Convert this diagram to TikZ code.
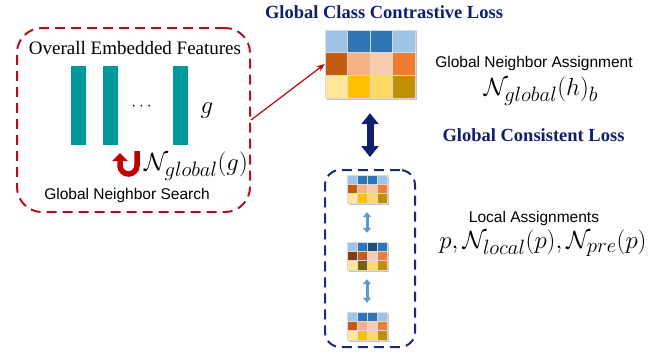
\documentclass[tikz,border=0pt]{standalone}
\usepackage[no-math]{fontspec}
\setmainfont{Liberation Serif}
\setsansfont{Liberation Sans}
\usepackage{amsmath}
\usetikzlibrary{shapes,arrows.meta,shadows}
\DeclareMathSizes{24}{24}{20}{16}

\definecolor{featteal}{RGB}{0,153,153}
\definecolor{lossnavy}{RGB}{16,30,110}
\definecolor{boxred}{RGB}{175,20,30}
\definecolor{arrowred}{RGB}{192,0,0}
\definecolor{boxnavy}{RGB}{30,40,120}
\definecolor{linkblue}{RGB}{91,155,213}
\definecolor{hLB}{HTML}{9DC3E6}
\definecolor{hB}{HTML}{2E75B6}
\definecolor{hDB}{HTML}{1F4E79}
\definecolor{hBr}{HTML}{C55A11}
\definecolor{hPe}{HTML}{F4B183}
\definecolor{hLp}{HTML}{F8CBAD}
\definecolor{hOr}{HTML}{ED7D31}
\definecolor{hDBr}{HTML}{843C0C}
\definecolor{hLy}{HTML}{FFE699}
\definecolor{hGo}{HTML}{FFC000}
\definecolor{hYe}{HTML}{FFD966}
\definecolor{hOl}{HTML}{BF9000}
\definecolor{hDOl}{HTML}{7F6000}

% heat map: name, position, cell width, cell height, rows of colours
\newcommand{\heatmap}[5]{%
  \node[heatbox, minimum width=4*#3, minimum height=3*#4] (#1) at (#2) {};
  \begin{scope}[shift={(#1.north west)}]
    \foreach \row [count=\r] in {#5}
      \foreach \c [count=\k] in \row
        \draw[heatcell, fill=\c] ({(\k-1)*#3},{(1-\r)*#4}) rectangle ++(#3,-#4);
  \end{scope}}

\begin{document}
\begin{tikzpicture}[x=1pt,y=1pt]
\tikzstyle{heatbox}=[rectangle,inner sep=0pt,fill=white,drop shadow={shadow xshift=1.5pt,shadow yshift=-1.5pt,fill=black!45}]
\tikzstyle{heatcell}=[draw=white!85!black,line width=0.4pt]
\tikzstyle{featbar}=[rectangle,inner sep=0pt,fill=featteal,minimum width=15,minimum height=79]
\tikzstyle{title}=[inner sep=0pt,text=lossnavy,font=\bfseries\fontsize{18.5}{20}\selectfont]
\tikzstyle{plain}=[inner sep=0pt,font=\sffamily\fontsize{15.5}{17}\selectfont]
\tikzstyle{formula}=[inner sep=0pt,font=\fontsize{24}{26}\selectfont]
\useasboundingbox (0,0) rectangle (660,-354);

% left part
\node[draw=boxred,line width=2pt,dash pattern=on 10pt off 6pt,rounded corners=25pt,minimum width=233,minimum height=184] (feat) at (133.5,-120) {};
\node[inner sep=0pt,font=\fontsize{19}{21}\selectfont] (feattitle) at (135,-48) {Overall Embedded Features};
\node[featbar] (bar1) at (78.5,-105.5) {};
\node[featbar] (bar2) at (110.5,-105.5) {};
\node[featbar] (bar3) at (180.5,-105.5) {};
\node[inner sep=0pt,font=\fontsize{17}{19}\selectfont] (dots) at (143,-107) {$\cdots$};
\node[formula] (g) at (207,-111) {$g$};
\node[formula] (nglob) at (196,-166) {$\mathcal{N}_{global}(g)$};
\node[plain] (search) at (127,-195) {Global Neighbor Search};
\draw[arrowred,line width=5.5pt,-{Triangle[width=15pt,length=8pt]}] (137,-151) -- (137,-165.5) arc[start angle=0,end angle=-180,radius=8.5] -- (120,-153);

% global assignment
\node[title] (ctitle) at (384,-12) {Global Class Contrastive Loss};
\heatmap{top}{370,-64}{22.5}{22.67}{{hLB,hB,hB,hLB},{hBr,hPe,hLp,hOr},{hLy,hGo,hYe,hOl}}
\node[plain] (gna) at (534,-63.5) {Global Neighbor Assignment};
\node[formula] (nh) at (541,-91.5) {$\mathcal{N}_{global}(h)_b$};
\draw[arrowred,line width=1.2pt,-{Stealth[length=8pt,width=6pt]}] (feat.east) -- (top.west);

% local assignments
\node[title] (stitle) at (533.5,-135) {Global Consistent Loss};
\node[draw=boxnavy,line width=2pt,dash pattern=on 10pt off 6pt,rounded corners=15pt,minimum width=90,minimum height=177] (local) at (370,-258.5) {};
\heatmap{s1}{367,-189}{10}{9.33}{{hLB,hB,hB,hLB},{hBr,hPe,hLp,hOr},{hLy,hGo,hYe,hOl}}
\heatmap{s2}{367,-256}{10}{9.33}{{hLB,hB,hDB,hB},{hDBr,hBr,hLp,hOr},{hLy,hDOl,hYe,hOl}}
\heatmap{s3}{367,-326}{10}{9.33}{{hLB,hB,hB,hLB},{hBr,hPe,hLp,hOr},{hLy,hGo,hYe,hOl}}
\node[plain] (la) at (534,-218.5) {Local Assignments};
\node[formula] (pl) at (543,-243.5) {$p,\mathcal{N}_{local}(p),\mathcal{N}_{pre}(p)$};

\draw[lossnavy,line width=7pt,{Triangle[width=17pt,length=11pt]}-{Triangle[width=17pt,length=11pt]},shorten <=15pt,shorten >=12pt] (top.south) -- (local.north);
\draw[linkblue,line width=3pt,{Triangle[width=8pt,length=5pt]}-{Triangle[width=8pt,length=5pt]},shorten <=9pt,shorten >=9pt] (s1.south) -- (s2.north);
\draw[linkblue,line width=3pt,{Triangle[width=8pt,length=5pt]}-{Triangle[width=8pt,length=5pt]},shorten <=9pt,shorten >=9pt] (s2.south) -- (s3.north);
\end{tikzpicture}
\end{document}
